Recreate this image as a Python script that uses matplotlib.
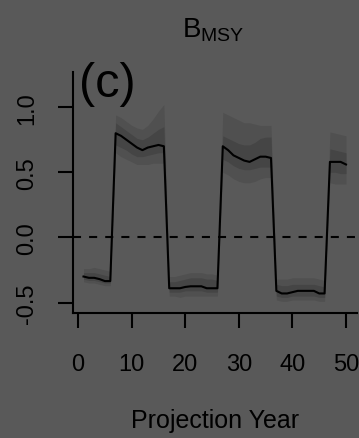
import matplotlib
matplotlib.use("Agg")
import matplotlib.pyplot as plt
import numpy as np

plt.rcParams['font.family'] = ['Liberation Sans', 'DejaVu Sans']
plt.rcParams['lines.scale_dashes'] = False

# projection years and the B_MSY deviation trajectory (median + 50% / 90% bands)
years = np.arange(1, 51)

median = [-0.30, -0.31, -0.31, -0.32, -0.335, -0.335,
          0.80, 0.78, 0.75, 0.72, 0.69, 0.67, 0.69, 0.70, 0.71, 0.70,
          -0.39, -0.39, -0.39, -0.38, -0.375, -0.375, -0.375, -0.39, -0.39, -0.39,
          0.70, 0.67, 0.63, 0.61, 0.59, 0.58, 0.60, 0.62, 0.62, 0.61,
          -0.41, -0.43, -0.43, -0.42, -0.41, -0.41, -0.41, -0.41, -0.43, -0.43,
          0.58, 0.58, 0.58, 0.56]

hi90 = [-0.24, -0.24, -0.23, -0.24, -0.25, -0.26,
        0.94, 0.92, 0.89, 0.86, 0.84, 0.83, 0.86, 0.91, 0.97, 1.02,
        -0.30, -0.30, -0.29, -0.28, -0.27, -0.27, -0.27, -0.28, -0.28, -0.29,
        0.96, 0.94, 0.92, 0.90, 0.88, 0.88, 0.87, 0.86, 0.86, 0.86,
        -0.32, -0.32, -0.32, -0.31, -0.31, -0.31, -0.31, -0.31, -0.32, -0.33,
        0.81, 0.80, 0.79, 0.78]

hi50 = [-0.27, -0.27, -0.27, -0.28, -0.29, -0.30,
        0.88, 0.85, 0.82, 0.79, 0.76, 0.75, 0.77, 0.80, 0.83, 0.85,
        -0.34, -0.34, -0.33, -0.32, -0.31, -0.31, -0.31, -0.32, -0.32, -0.33,
        0.78, 0.76, 0.74, 0.72, 0.71, 0.71, 0.73, 0.76, 0.77, 0.77,
        -0.36, -0.37, -0.37, -0.36, -0.36, -0.36, -0.36, -0.36, -0.37, -0.38,
        0.68, 0.67, 0.66, 0.65]

lo50 = [-0.32, -0.33, -0.33, -0.34, -0.35, -0.35,
        0.71, 0.69, 0.67, 0.64, 0.62, 0.62, 0.63, 0.64, 0.65, 0.65,
        -0.42, -0.42, -0.42, -0.41, -0.41, -0.41, -0.41, -0.42, -0.42, -0.42,
        0.60, 0.58, 0.55, 0.53, 0.52, 0.52, 0.53, 0.54, 0.54, 0.54,
        -0.45, -0.46, -0.46, -0.45, -0.45, -0.45, -0.45, -0.45, -0.46, -0.46,
        0.50, 0.50, 0.49, 0.49]

lo90 = [-0.34, -0.35, -0.35, -0.36, -0.37, -0.37,
        0.65, 0.62, 0.60, 0.58, 0.56, 0.56, 0.56, 0.57, 0.57, 0.57,
        -0.45, -0.45, -0.46, -0.45, -0.45, -0.45, -0.45, -0.45, -0.45, -0.45,
        0.50, 0.48, 0.45, 0.43, 0.42, 0.42, 0.43, 0.45, 0.46, 0.46,
        -0.48, -0.49, -0.49, -0.48, -0.48, -0.48, -0.48, -0.48, -0.49, -0.49,
        0.42, 0.41, 0.41, 0.41]

xticks = [0, 10, 20, 30, 40, 50]
yticks = [-0.5, 0.0, 0.5, 1.0]
ytick_labels = ['-0.5', '0.0', '0.5', '1.0']

bg = '#595959'
W, H = 359, 439
fig = plt.figure(figsize=(W / 100, H / 100), dpi=100, facecolor=bg)
ax = fig.add_axes([73 / W, 1 - 314 / H, (356.5 - 73) / W, (314 - 73) / H])
ax.set_facecolor(bg)

ax.fill_between(years, lo90, hi90, color='#505050', lw=0)
ax.fill_between(years, lo50, hi50, color='#454545', lw=0)
ax.plot(years, median, color='black', lw=1.5)
ax.axhline(0, color='black', lw=1.5, linestyle=(0, (5.8, 5.8)))

ax.set_xlim(-0.96, 51.96)
ax.set_ylim(-0.58, 1.27)

# L-shaped box like R's bty="l"
for s in ['top', 'right']:
    ax.spines[s].set_visible(False)
for s in ['left', 'bottom']:
    ax.spines[s].set_linewidth(1.5)
    ax.spines[s].set_color('black')

ax.set_xticks(xticks)
ax.set_xticklabels([str(v) for v in xticks])
ax.set_yticks(yticks)
ax.set_yticklabels(ytick_labels, rotation=90, va='center')
ax.tick_params(axis='both', length=11, width=1.5, color='black',
               labelsize=17, labelcolor='black', direction='out')
ax.tick_params(axis='x', pad=18)
ax.tick_params(axis='y', pad=14)

ax.text(0.02, 1.045, '(c)', transform=ax.transAxes, fontsize=35,
        ha='left', va='top', color='black')

fig.text(213 / W, 1 - 37 / H, r'$\mathregular{B_{MSY}}$', ha='center',
         va='baseline', fontsize=20, color='black')
fig.text(215 / W, 1 - 428 / H, 'Projection Year', ha='center',
         va='baseline', fontsize=18, color='black')

fig.savefig('out.png', dpi=100, facecolor=bg)
